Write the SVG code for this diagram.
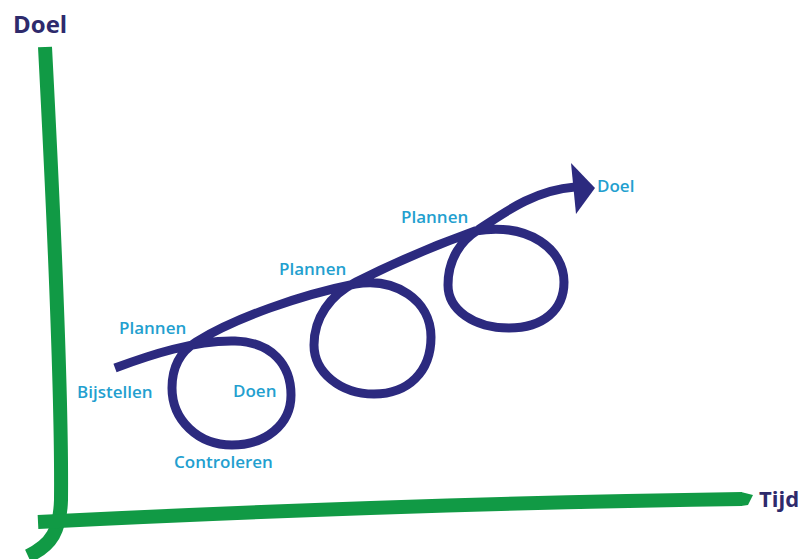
<svg xmlns="http://www.w3.org/2000/svg" width="807" height="559" viewBox="0 0 807 559">
<style>
.axis{fill:none;stroke:#119a45;stroke-width:14;stroke-linecap:butt;stroke-linejoin:round}
.curve{fill:none;stroke:#2c2a7f;stroke-width:9;stroke-linecap:butt;stroke-linejoin:round}
.title{font-family:"Open Sans","Liberation Sans",sans-serif;font-weight:700;fill:#2e2a6c}
.lbl{font-family:"Open Sans","Liberation Sans",sans-serif;font-weight:600;font-size:17px;fill:#239fcf}
</style>
<rect width="807" height="559" fill="#ffffff"/>
<g id="axes">
<path class="axis" d="M 45 47 C 53 200, 62 400, 61 500 C 60 530, 52 545, 28 556"/>
<path class="axis" d="M 38 522 C 200 514, 450 503, 742 499"/>
<polygon points="741,492 753,495 748,505 741,506" fill="#119a45"/>
</g>
<g id="connectors">
<path class="curve" d="M 115 368 C 150 355, 195 340, 235 341 C 272 342, 291 365, 291 395 C 291 425, 265 445, 232 445 C 198 445, 172 420, 172 388 C 172 368, 180 352, 196 342 C 235 318, 300 295, 355 284 C 395 277, 431 300, 431 337 C 431 372, 408 394, 374 394 C 340 394, 314 372, 314 345 C 314 318, 330 295, 356 282 C 390 265, 430 247, 475 231 C 530 222, 564 250, 564 282 C 564 310, 543 328, 509 328 C 474 328, 448 310, 448 285 C 448 258, 462 240, 478 230 C 505 212, 535 190, 575 187"/>
<polygon points="571,163 595,188 576,214" fill="#2c2a7f"/>
</g>
<g id="title-doel"><text class="title" x="13" y="33" font-size="24">Doel</text></g>
<g id="title-tijd"><text class="title" x="759" y="507" font-size="22">Tijd</text></g>
<g id="label-plannen-1"><text class="lbl" x="119" y="334">Plannen</text></g>
<g id="label-bijstellen"><text class="lbl" x="77" y="398">Bijstellen</text></g>
<g id="label-doen"><text class="lbl" x="233" y="397">Doen</text></g>
<g id="label-controleren"><text class="lbl" x="174" y="468">Controleren</text></g>
<g id="label-plannen-2"><text class="lbl" x="279" y="275">Plannen</text></g>
<g id="label-plannen-3"><text class="lbl" x="401" y="223">Plannen</text></g>
<g id="label-doel"><text class="lbl" x="597" y="192">Doel</text></g>
</svg>
